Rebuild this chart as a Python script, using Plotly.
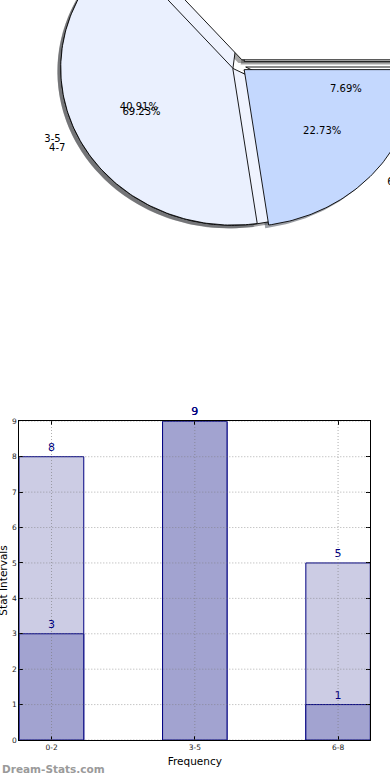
import numpy as np
import plotly.graph_objects as go

# ---------------- data ----------------
categories = ["0-2", "3-5", "6-8"]
series_a = [8, 9, 5]          # light bars, first pie
series_b = [3, 9, 1]          # dark bars, second pie
pie1_labels = ["0-2", "3-5", "6-8"]
pie2_labels = ["0-2", "4-7", "6-8"]
y_ticks = list(range(0, 10))

# ---------------- styles ----------------
pie1_colors = ["#FFFFFF", "#EAF0FE", "#C4D8FE"]
pie2_colors = ["#FFFFFF", "#EFF3FE", "#FFFFFF"]
bar_light = "#CCCCE4"
bar_dark = "#A2A3D0"
navy = "#000080"
FONT = "DejaVu Sans"
EXPLODE = 0.04
SHADOW = (-0.02, -0.02)

W, H = 390, 780
# pie placement (pixels): centre and radii of the pie on the page
PCX, PCY, RX, RY = 239.0, 65.5, 172.0, 157.0
PIE_H = 390.0  # pixel height of the pie subplot (top of page)


def wedges(values, start_deg, explode):
    total = float(sum(values))
    out = []
    a = start_deg
    for v in values:
        span = 360.0 * v / total
        a0, a1 = a, a + span
        m = np.radians((a0 + a1) / 2.0)
        vx, vy = explode * np.cos(m), explode * np.sin(m)
        t = np.radians(np.linspace(a0, a1, max(int(span) + 2, 3)))
        xs = np.concatenate([[vx], vx + np.cos(t), [vx]])
        ys = np.concatenate([[vy], vy + np.sin(t), [vy]])
        out.append(dict(xs=xs, ys=ys, vx=vx, vy=vy, m=m, frac=v / total))
        a = a1
    return out


def shade(hexcol):
    h = hexcol.lstrip("#")
    r, g, b = (int(h[i:i + 2], 16) for i in (0, 2, 4))
    return "rgba(%d,%d,%d,0.5)" % (r * 0.3, g * 0.3, b * 0.3)


fig = go.Figure()

w1 = wedges(series_a, 0.0, EXPLODE)
w2 = wedges(series_b, 0.0, EXPLODE)

# shadows
for ws, cols in ((w2, pie2_colors), (w1, pie1_colors)):
    for w, c in zip(ws, cols):
        fig.add_trace(go.Scatter(
            x=w["xs"] + SHADOW[0], y=w["ys"] + SHADOW[1], mode="lines",
            fill="toself", fillcolor=shade(c), line=dict(width=0),
            hoverinfo="skip", xaxis="x2", yaxis="y2"))

# wedges (second pie underneath the first)
for ws, cols in ((w2, pie2_colors), (w1, pie1_colors)):
    for w, c in zip(ws, cols):
        fig.add_trace(go.Scatter(
            x=w["xs"], y=w["ys"], mode="lines", fill="toself", fillcolor=c,
            line=dict(color="black", width=0.9), hoverinfo="skip",
            xaxis="x2", yaxis="y2"))

# texts: percentages at 0.6, labels at 1.1 of the radius
for ws, labels in ((w2, pie2_labels), (w1, pie1_labels)):
    px_, py_, pt = [], [], []
    lx, ly, lt, lpos = [], [], [], []
    for w, lab in zip(ws, labels):
        px_.append(w["vx"] + 0.6 * np.cos(w["m"]))
        py_.append(w["vy"] + 0.6 * np.sin(w["m"]))
        pt.append("%.2f%%" % (100 * w["frac"]))
        xl = w["vx"] + 1.1 * np.cos(w["m"])
        lx.append(xl)
        ly.append(w["vy"] + 1.1 * np.sin(w["m"]))
        lt.append(lab)
        lpos.append("middle right" if xl > 0 else "middle left")
    fig.add_trace(go.Scatter(
        x=px_, y=py_, text=pt, mode="text", textposition="middle center",
        textfont=dict(family=FONT, size=10, color="black"),
        hoverinfo="skip", cliponaxis=False, xaxis="x2", yaxis="y2"))
    fig.add_trace(go.Scatter(
        x=lx, y=ly, text=lt, mode="text", textposition=lpos,
        textfont=dict(family=FONT, size=10, color="black"),
        hoverinfo="skip", cliponaxis=False, xaxis="x2", yaxis="y2"))

# ---------------- bars ----------------
for vals, col in ((series_a, bar_light), (series_b, bar_dark)):
    fig.add_trace(go.Bar(
        x=categories, y=vals, width=0.45,
        marker=dict(color=col, line=dict(color=navy, width=1)),
        text=vals, textposition="outside",
        textfont=dict(family=FONT, size=11, color=navy),
        cliponaxis=False, hoverinfo="skip", xaxis="x", yaxis="y"))

# grid drawn above bars (dotted)
GRID = dict(color="rgba(120,120,120,0.6)", width=1, dash="1px,2px")
shapes = []
for v in y_ticks:
    shapes.append(dict(type="line", xref="x domain", x0=0, x1=1, yref="y",
                       y0=v, y1=v, layer="above", line=GRID))
for c in categories:
    shapes.append(dict(type="line", xref="x", x0=c, x1=c, yref="y domain",
                       y0=0, y1=1, layer="above", line=GRID))

ax_left, ax_right = 19.3, 370.3
ax_top, ax_bottom = 421.3, 740.0

fig.update_layout(
    width=W, height=H, margin=dict(l=0, r=0, t=0, b=0, autoexpand=False),
    paper_bgcolor="white", plot_bgcolor="white", showlegend=False,
    barmode="overlay", shapes=shapes,
    xaxis=dict(domain=[ax_left / W, ax_right / W], anchor="y", automargin=False,
               type="category", range=[-0.225, 2.225],
               showline=True, linecolor="black", linewidth=1, mirror="allticks",
               ticks="inside", ticklen=4, tickcolor="black",
               tickfont=dict(family=FONT, size=7.5, color="#222"),
               showgrid=False, zeroline=False, fixedrange=True,
               title=dict(text="Frequency", standoff=6,
                          font=dict(family=FONT, size=10.5, color="black"))),
    yaxis=dict(domain=[1 - ax_bottom / H, 1 - ax_top / H], anchor="x", automargin=False,
               range=[0, 9], tickvals=y_ticks,
               showline=True, linecolor="black", linewidth=1, mirror="allticks",
               ticks="inside", ticklen=4, tickcolor="black",
               tickfont=dict(family=FONT, size=7.5, color="#222"),
               showgrid=False, zeroline=False, fixedrange=True),
    xaxis2=dict(domain=[0, 1], anchor="y2", visible=False, fixedrange=True,
                automargin=False, range=[(0 - PCX) / RX, (W - PCX) / RX]),
    yaxis2=dict(domain=[1 - PIE_H / H, 1], anchor="x2", visible=False, fixedrange=True,
                automargin=False, range=[(PCY - PIE_H) / RY, PCY / RY]),
    annotations=[
        dict(text="Stat Intervals", textangle=-90, xref="paper", yref="paper",
             x=3.0 / W, y=1 - (ax_top + ax_bottom) / 2 / H, xanchor="center",
             yanchor="middle", showarrow=False,
             font=dict(family=FONT, size=10.5, color="black")),
        dict(text="<b>Dream-Stats.com</b>", xref="paper", yref="paper",
             x=0, y=1 - 769.0 / H, xanchor="left", yanchor="middle",
             showarrow=False, font=dict(family=FONT, size=10.5, color="#9a9a9a")),
    ],
)

fig.write_html("out.html",
               config={"displayModeBar": False},
               post_script="document.documentElement.style.margin='0';"
                           "document.documentElement.style.overflow='hidden';"
                           "document.body.style.margin='0';"
                           "document.body.style.overflow='hidden';")
